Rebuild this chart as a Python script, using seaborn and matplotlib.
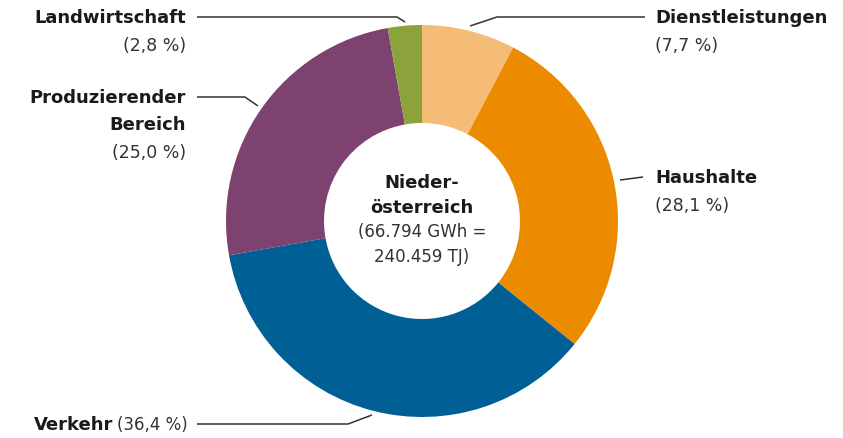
import matplotlib
matplotlib.use("Agg")
import matplotlib.pyplot as plt
import seaborn as sns

# energy consumption shares, Niederösterreich
sectors = ["Dienstleistungen", "Haushalte", "Verkehr", "Produzierender Bereich", "Landwirtschaft"]
shares = [7.7, 28.1, 36.4, 25.0, 2.8]
share_labels = ["(7,7 %)", "(28,1 %)", "(36,4 %)", "(25,0 %)", "(2,8 %)"]
center_lines = ["Nieder-", "österreich", "(66.794 GWh =", "240.459 TJ)"]

sns.set_theme(style="white")
plt.rcParams["font.family"] = ["DejaVu Sans"]
colors = sns.color_palette(["#f5bc78", "#ec8b00", "#005f94", "#7d4270", "#8ca23a"])

W, H = 843, 439
CX, CY, R = 422, 222, 196


def px(x, y):
    # pixel position -> data coords (pie radius = 1)
    return (x - CX) / R, (CY - y) / R


fig = plt.figure(figsize=(W / 100, H / 100), dpi=100)
ax = fig.add_axes([0, 0, 1, 1])
ax.pie(shares, colors=colors, startangle=90, counterclock=False,
       radius=1, wedgeprops=dict(width=0.5, linewidth=0))
ax.set_xlim(-CX / R, (W - CX) / R)
ax.set_ylim(-(H - CY) / R, CY / R)
ax.set_aspect("auto")
ax.axis("off")

dark = "#1a1a1a"
grey = "#333333"
fs_b = 13
fs_r = 12.5


def line(points):
    xs, ys = zip(*[px(x, y) for x, y in points])
    ax.plot(xs, ys, color="#333333", lw=1.1, solid_capstyle="butt")


def txt(x, y, s, ha, bold=False, color=dark, size=None):
    if size is None:
        size = fs_b if bold else fs_r
    ax.text(*px(x, y), s, ha=ha, va="center", fontsize=size,
            fontweight="bold" if bold else "normal", color=color)


# Landwirtschaft
txt(186, 18, sectors[4], "right", True)
txt(186, 46, share_labels[4], "right", color=grey)
line([(197, 18), (397, 18), (405, 23)])

# Produzierender Bereich
txt(186, 98, "Produzierender", "right", True)
txt(186, 125, "Bereich", "right", True)
txt(186, 153, share_labels[3], "right", color=grey)
line([(197, 98), (245, 98), (258, 107)])

# Dienstleistungen
txt(655, 18, sectors[0], "left", True)
txt(655, 46, share_labels[0], "left", color=grey)
line([(470, 27), (497, 18), (645, 18)])

# Haushalte
txt(655, 178, sectors[1], "left", True)
txt(655, 206, share_labels[1], "left", color=grey)
line([(620, 181), (643, 178)])

# Verkehr
txt(113, 425, sectors[2], "right", True)
txt(117, 425, share_labels[2], "left", color=grey, size=12)
line([(197, 425), (348, 425), (372, 416)])

# centre label
txt(CX, 183, center_lines[0], "center", True)
txt(CX, 208, center_lines[1], "center", True)
txt(CX, 232, center_lines[2], "center", color=grey, size=12)
txt(CX, 257, center_lines[3], "center", color=grey, size=12)

fig.savefig("out.png", dpi=100)
